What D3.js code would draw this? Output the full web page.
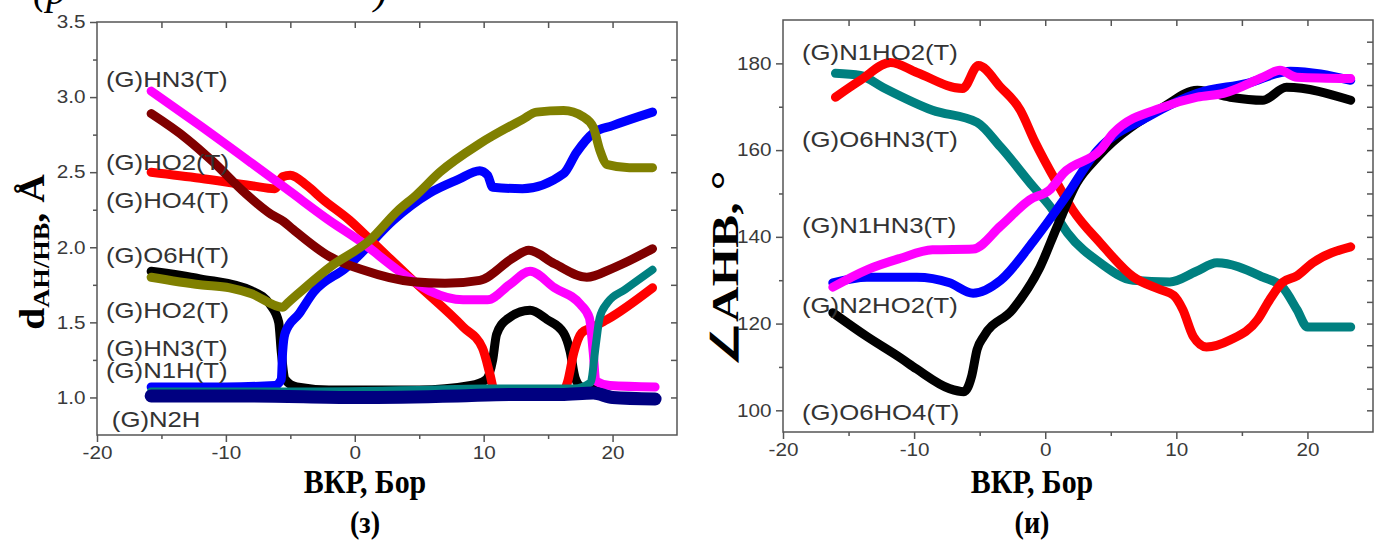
<!DOCTYPE html>
<html>
<head>
<meta charset="utf-8">
<script src="https://cdn.jsdelivr.net/npm/d3@7"></script>
<style>
    body { margin: 0; background: #fff; }
    svg { display: block; }
    .tick text { font-family: "Liberation Sans", Arial, sans-serif; font-size: 18px; fill: #3a3a3a; }
    .tick line { stroke: #555; stroke-width: 1.5; }
    .frame { fill: none; stroke: #555; stroke-width: 1.5; }
    .series-label { font-family: "Liberation Sans", Arial, sans-serif; font-size: 22px; fill: #333; }
    .axis-title { font-family: "Liberation Serif", "Times New Roman", serif; font-weight: bold; fill: #000; }
    .caption { font-family: "Liberation Serif", "Times New Roman", serif; font-style: italic; font-size: 40px; fill: #000; }
    .curve { fill: none; stroke-linejoin: round; stroke-linecap: round; }
</style>
</head>
<body>
<div id="chart"></div>
<script>

// ---- panel (з): H-bond distances, Å ----
const hn3DistMagenta = [[-15.8, 3.04], [-12, 2.81], [-8, 2.56], [-5, 2.37], [-2, 2.18], [0.6, 2.03], [3.3, 1.85], [5.8, 1.71], [8.4, 1.65], [10.3, 1.65], [12, 1.75], [13.6, 1.84], [15.5, 1.73], [17.5, 1.62], [18.2, 1.53], [18.5, 1.3], [18.7, 1.11], [19.8, 1.08], [23.3, 1.07]];
const ho4DistMaroon = [[-15.8, 2.89], [-13, 2.72], [-11, 2.57], [-8.5, 2.36], [-6.5, 2.22], [-5.5, 2.17], [-4.8, 2.12], [-2, 1.94], [0.6, 1.85], [4.5, 1.77], [7, 1.76], [9.7, 1.78], [12.3, 1.93], [13.5, 1.98], [15.5, 1.89], [18, 1.80], [20, 1.86], [23.1, 1.99]];
const ho2DistRed = [[-15.8, 2.5], [-12, 2.46], [-8, 2.41], [-6.2, 2.39], [-5.6, 2.47], [-5, 2.48], [-3.7, 2.41], [-2.5, 2.32], [-0.4, 2.18], [1.2, 2.05], [4.5, 1.78], [8.4, 1.47], [9.9, 1.33], [10.5, 1.15], [10.8, 1.05], [11.5, 1.02], [16, 1.02], [16.5, 1.1], [17, 1.3], [17.6, 1.43], [18.5, 1.47], [19.6, 1.52], [23.1, 1.73]];
const o6hDistOlive = [[-15.8, 1.80], [-12, 1.75], [-9.7, 1.73], [-8, 1.69], [-5.6, 1.6], [-5.2, 1.63], [-1.9, 1.87], [1.2, 2.05], [3.3, 2.24], [4.8, 2.35], [6.6, 2.5], [9.7, 2.69], [13, 2.85], [14.1, 2.9], [16.2, 2.91], [17.7, 2.87], [18.5, 2.8], [19.0, 2.65], [19.6, 2.55], [21.3, 2.53], [23.1, 2.53]];
const hn3DistBlue = [[-15.8, 1.07], [-10, 1.07], [-6.2, 1.08], [-5.7, 1.12], [-5.6, 1.3], [-5.4, 1.43], [-4.3, 1.56], [-3.2, 1.70], [-0.6, 1.87], [0.6, 1.97], [3, 2.18], [5.8, 2.36], [8, 2.45], [9.7, 2.51], [10.3, 2.48], [10.7, 2.4], [13, 2.39], [16.2, 2.49], [17.2, 2.63], [18.5, 2.76], [20, 2.81], [23.1, 2.9]];
const ho2DistBlack = [[-15.8, 1.84], [-12, 1.79], [-8, 1.71], [-6.5, 1.61], [-5.9, 1.5], [-5.7, 1.3], [-5.4, 1.12], [-4.5, 1.07], [-2, 1.05], [5, 1.05], [9, 1.08], [10.2, 1.12], [10.7, 1.25], [11, 1.42], [11.8, 1.52], [13.6, 1.58], [14.9, 1.52], [16.2, 1.43], [16.7, 1.31], [17.1, 1.13], [17.6, 1.07], [19, 1.05]];
const n1hDistTeal = [[-15.8, 1.04], [-5, 1.04], [5, 1.05], [10, 1.06], [17, 1.06], [18.3, 1.1], [18.7, 1.35], [19.0, 1.53], [19.6, 1.63], [21, 1.72], [23.1, 1.85]];
const n2hDistNavy = [[-15.8, 1.01], [-8, 1.01], [0, 1.0], [8, 1.01], [12, 1.02], [16, 1.02], [18.5, 1.03], [20, 1.0], [23.3, 0.99]];

const namesLeft = ["(G)HN3(T)", "(G)HO2(T)", "(G)HO4(T)", "(G)O6H(T)", "(G)HO2(T)", "(G)HN3(T)", "(G)N1H(T)", "(G)N2H"];

// ---- panel (и): H-bond angles, degrees ----
const n1ho2AngRed = [[-16, 172.2], [-14.1, 176.1], [-11.8, 180.2], [-9.8, 177.9], [-6.3, 174.2], [-5.1, 179.5], [-3.4, 174.5], [-1.9, 169.2], [-0.8, 162], [0.9, 152.4], [2.1, 146.2], [4.2, 138.6], [6.7, 130.8], [8.8, 127.8], [9.8, 126.5], [10.5, 123.2], [11.3, 117], [12.3, 114.6], [14.1, 116.2], [16.2, 120.9], [17.1, 125.4], [18.1, 129.5], [19.2, 131], [20.4, 134], [23.3, 137.7]];
const o6hn3AngTeal = [[-16, 177.7], [-14.1, 177.2], [-12.4, 174.5], [-8.6, 169.2], [-5.2, 166.4], [-3.4, 160.7], [-0.9, 151.5], [0.4, 146.9], [1.7, 140.9], [4.2, 134], [6.7, 130], [9.5, 129.6], [11.5, 132], [13.1, 134], [16.6, 130.7], [18.1, 128.4], [19.2, 123.2], [20.0, 119.2], [23.3, 119.2]];
const n1hn3AngMagenta = [[-16.2, 128.4], [-13.6, 132.4], [-11.1, 135], [-8.6, 137], [-5.5, 137.2], [-3.4, 142.5], [-1.2, 148.5], [0.4, 151], [1.4, 154.7], [4.2, 160], [5.2, 163.9], [9, 169.9], [11.6, 172.2], [13.6, 173.1], [16.6, 176.8], [17.9, 178.4], [19.2, 176.8], [23.3, 176.5]];
const n2ho2AngBlue = [[-16.2, 129.4], [-13.6, 130.7], [-9.8, 130.7], [-7.3, 129.4], [-5.5, 127], [-3.4, 130], [-0.9, 139], [1.4, 148.5], [4, 160], [7.8, 167.6], [11.6, 173.1], [15.4, 175.4], [18.7, 178.2], [23.3, 176.1]];
const o6ho4AngBlack = [[-16.2, 122.5], [-13.6, 117], [-11, 112], [-9.8, 109.5], [-7.3, 105], [-6.2, 104.3], [-5.6, 108], [-5.2, 114], [-4.7, 117], [-2.5, 123.2], [-0.4, 133], [0.9, 142.3], [2.4, 152.4], [4, 158.4], [9, 169.9], [11.6, 173.8], [14.1, 172.2], [16.6, 171.5], [18.4, 174.5], [23.3, 171.5]];

const namesRight = ["(G)N1HO2(T)", "(G)O6HN3(T)", "(G)N1HN3(T)", "(G)N2HO2(T)", "(G)O6HO4(T)"];

// ticks
const xTicksMajor = [-20, -10, 0, 10, 20];
const xTicksMinor = [-15, -5, 5, 15];
const xTicksTop = [-15, -10, -5, 0, 5, 10, 15, 20];
const yTicksLeftMajor = [1.0, 1.5, 2.0, 2.5, 3.0, 3.5];
const yTicksLeftMinor = [1.25, 1.75, 2.25, 2.75, 3.25];
const yTicksLeftRight = [1.0, 1.25, 1.5, 1.75, 2.0, 2.25, 2.5, 2.75, 3.0, 3.25];
const yTicksRightMajor = [100, 120, 140, 160, 180];
const yTicksRightMinor = [110, 130, 150, 170];
const yTicksRightRight = [100, 105, 110, 115, 120, 125, 130, 135, 140, 145, 150, 155, 160, 165, 170, 175, 180, 185];


class Panel {

    constructor(_svg, _config, _series) {
        this.svg = _svg;
        this.config = _config;
        this.series = _series;

        this.initVis();
    }

    initVis() {
        let vis = this;
        let c = vis.config;

        vis.x = d3.scaleLinear().domain(c.xDomain).range([c.left, c.right]);
        vis.y = d3.scaleLinear().domain(c.yDomain).range([c.bottom, c.top]);

        vis.g = vis.svg.append("g");

        const stretch = g => {
            g.select(".domain").remove();
            g.selectAll("text").attr("transform", "scale(1.15,1)");
        };

        vis.g.append("g")
            .attr("transform", "translate(0," + c.bottom + ")")
            .call(d3.axisBottom(vis.x).tickValues(xTicksMajor).tickSize(7).tickPadding(4).tickFormat(d => d))
            .call(stretch);

        vis.g.append("g")
            .attr("transform", "translate(0," + c.bottom + ")")
            .call(d3.axisBottom(vis.x).tickValues(xTicksMinor).tickSize(4).tickFormat(""))
            .call(stretch);

        vis.g.append("g")
            .attr("transform", "translate(0," + c.top + ")")
            .call(d3.axisTop(vis.x).tickValues(xTicksTop).tickSize(-6).tickFormat(""))
            .call(stretch);

        vis.g.append("g")
            .attr("transform", "translate(" + c.left + ",0)")
            .call(d3.axisLeft(vis.y).tickValues(c.yMajor).tickSize(7).tickPadding(3).tickFormat(c.yFormat))
            .call(stretch);

        vis.g.append("g")
            .attr("transform", "translate(" + c.left + ",0)")
            .call(d3.axisLeft(vis.y).tickValues(c.yMinor).tickSize(4).tickFormat(""))
            .call(stretch);

        vis.g.append("g")
            .attr("transform", "translate(" + c.right + ",0)")
            .call(d3.axisRight(vis.y).tickValues(c.yRight).tickSize(-6).tickFormat(""))
            .call(stretch);

        vis.g.append("rect")
            .attr("class", "frame")
            .attr("x", c.left)
            .attr("y", c.top)
            .attr("width", c.right - c.left)
            .attr("height", c.bottom - c.top);

        vis.line = d3.line()
            .x(d => vis.x(d[0]))
            .y(d => vis.y(d[1]))
            .curve(d3.curveMonotoneX);

        vis.g.selectAll(".curve")
            .data(vis.series)
            .enter()
            .append("path")
            .attr("class", "curve")
            .attr("d", d => vis.line(d.values))
            .attr("stroke", d => d.color)
            .attr("stroke-width", d => d.width);

        vis.g.selectAll(".series-label")
            .data(c.labels)
            .enter()
            .append("text")
            .attr("class", "series-label")
            .attr("transform", d => "translate(" + vis.x(d.at[0]) + "," + vis.y(d.at[1]) + ") scale(1.17,1)")
            .text(d => d.text);

        // x title + panel letter
        let cx = (c.left + c.right) / 2 + c.titleShift;
        vis.g.append("text")
            .attr("class", "axis-title")
            .attr("text-anchor", "middle")
            .attr("font-size", 34)
            .attr("transform", "translate(" + cx + ",493) scale(0.88,1)")
            .text("ВКР, Бор");

        vis.g.append("text")
            .attr("class", "axis-title")
            .attr("text-anchor", "middle")
            .attr("font-size", 32)
            .attr("transform", "translate(" + cx + ",533) scale(0.88,1)")
            .text(c.letter);
    }
}

let svg = d3.select("#chart").append("svg")
    .attr("width", 1375)
    .attr("height", 545);

// cropped caption line from the page above
svg.append("text").attr("class", "caption").attr("x", 33).attr("y", 4).text("(р");
svg.append("text").attr("class", "caption").attr("x", 374).attr("y", 4).text(")");

new Panel(svg, {
    xDomain: [-20, 25], yDomain: [0.75, 3.5],
    left: 97, right: 677, top: 22, bottom: 435,
    yMajor: yTicksLeftMajor, yMinor: yTicksLeftMinor, yRight: yTicksLeftRight,
    yFormat: d3.format(".1f"),
    letter: "(з)", titleShift: -22,
    labels: [[-19.3, 3.067], [-19.3, 2.513], [-19.3, 2.26], [-19.3, 1.893], [-19.3, 1.527], [-19.3, 1.275], [-19.3, 1.127], [-18.85, 0.8]]
        .map((p, i) => ({ text: namesLeft[i], at: p }))
}, [
    { color: "#000000", width: 9, values: ho2DistBlack },
    { color: "#0000ff", width: 9, values: hn3DistBlue },
    { color: "#ff0000", width: 9, values: ho2DistRed },
    { color: "#ff00ff", width: 9, values: hn3DistMagenta },
    { color: "#800000", width: 9, values: ho4DistMaroon },
    { color: "#808000", width: 9, values: o6hDistOlive },
    { color: "#008080", width: 8, values: n1hDistTeal },
    { color: "#000080", width: 13, values: n2hDistNavy }
]);

new Panel(svg, {
    xDomain: [-20, 25], yDomain: [95, 190],
    left: 783, right: 1373, top: 20, bottom: 432,
    yMajor: yTicksRightMajor, yMinor: yTicksRightMinor, yRight: yTicksRightRight,
    yFormat: d => d,
    letter: "(и)", titleShift: -46,
    labels: [[-18.55, 180.7], [-18.55, 160.7], [-18.55, 140.9], [-18.55, 122.5], [-18.55, 97.8]]
        .map((p, i) => ({ text: namesRight[i], at: p }))
}, [
    { color: "#008080", width: 9, values: o6hn3AngTeal },
    { color: "#ff0000", width: 9, values: n1ho2AngRed },
    { color: "#000000", width: 9, values: o6ho4AngBlack },
    { color: "#0000ff", width: 9, values: n2ho2AngBlue },
    { color: "#ff00ff", width: 9, values: n1hn3AngMagenta }
]);

// y titles
let yTitleL = svg.append("text")
    .attr("class", "axis-title")
    .attr("text-anchor", "middle")
    .attr("font-size", 36)
    .attr("transform", "translate(44,252) rotate(-90) scale(1.1,1)");
yTitleL.append("tspan").text("d");
yTitleL.append("tspan").attr("font-size", 24).attr("dy", 5).text("AH/HB");
yTitleL.append("tspan").attr("dy", -5).text(", Å");

svg.append("text")
    .attr("class", "axis-title")
    .attr("text-anchor", "middle")
    .attr("font-size", 38)
    .attr("transform", "translate(738,268) rotate(-90) scale(1.3,1)")
    .text("∠AHB, °");

</script>
</body>
</html>
